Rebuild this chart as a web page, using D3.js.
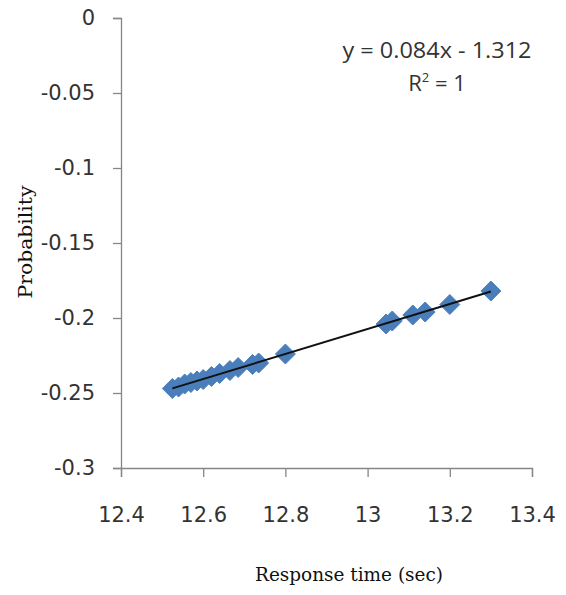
<!DOCTYPE html>
<html><head><meta charset="utf-8">
<script src="https://cdn.jsdelivr.net/npm/d3@7/dist/d3.min.js"></script>
<style>body{margin:0;background:#fff}svg{display:block}</style>
</head><body>
<svg id="c" width="566" height="595"></svg>
<script>
const responseTime = [12.525, 12.54, 12.555, 12.57, 12.585, 12.60, 12.62, 12.64, 12.665, 12.685, 12.72, 12.735, 12.80, 13.045, 13.06, 13.11, 13.14, 13.20, 13.30];
const probability = [-0.247, -0.246, -0.244, -0.243, -0.242, -0.241, -0.239, -0.237, -0.235, -0.233, -0.231, -0.230, -0.224, -0.204, -0.202, -0.198, -0.196, -0.191, -0.182];
const xTicks = [12.4, 12.6, 12.8, 13, 13.2, 13.4];
const yTicks = [0, -0.05, -0.1, -0.15, -0.2, -0.25, -0.3];
const equationText = "y = 0.084x - 1.312";
const xTitle = "Response time (sec)";
const yTitle = "Probability";

const svg = d3.select("#c");
const x = d3.scaleLinear().domain([12.4, 13.4]).range([121, 532]);
const y = d3.scaleLinear().domain([-0.3, 0]).range([468, 18]);
const axisColor = "#868686";
const tickFont = "'DejaVu Sans', sans-serif";

// X axis
const gx = svg.append("g").attr("transform", `translate(0,${y(-0.3)})`)
  .call(d3.axisBottom(x).tickValues(xTicks).tickSize(9).tickPadding(30).tickFormat(d => String(d)));
gx.select(".domain").attr("stroke", axisColor).attr("stroke-width", 1.3);
gx.selectAll(".tick line").attr("stroke", axisColor).attr("stroke-width", 1.3);
gx.selectAll(".tick text").attr("font-family", tickFont).attr("font-size", 21).attr("fill", "#333");

// Y axis
const gy = svg.append("g").attr("transform", `translate(${x(12.4)},0)`)
  .call(d3.axisLeft(y).tickValues(yTicks).tickSize(8).tickPadding(18).tickFormat(d => String(d)));
gy.select(".domain").attr("stroke", axisColor).attr("stroke-width", 1.3);
gy.selectAll(".tick line").attr("stroke", axisColor).attr("stroke-width", 1.3);
gy.selectAll(".tick text").attr("font-family", tickFont).attr("font-size", 21).attr("fill", "#333");

// Markers
const data = responseTime.map((t, i) => ({t, p: probability[i]}));
const r = 10;
svg.append("g").selectAll("path").data(data).join("path")
  .attr("transform", d => `translate(${x(d.t)},${y(d.p)})`)
  .attr("d", `M0,${-r}L${r},0L0,${r}L${-r},0Z`)
  .attr("fill", "#4A7EBB").attr("stroke", "#4F81BD").attr("stroke-width", 1);

// Linear trend line (least squares)
const mx = d3.mean(responseTime), my = d3.mean(probability);
const slope = d3.sum(data, d => (d.t - mx) * (d.p - my)) / d3.sum(data, d => (d.t - mx) ** 2);
const icpt = my - slope * mx;
const x0 = d3.min(responseTime), x1 = d3.max(responseTime);
svg.append("line")
  .attr("x1", x(x0)).attr("y1", y(slope * x0 + icpt))
  .attr("x2", x(x1)).attr("y2", y(slope * x1 + icpt))
  .attr("stroke", "#111").attr("stroke-width", 2);

// Equation
const eqFont = "'Open Sans', sans-serif";
svg.append("text").attr("x", 437).attr("y", 58).attr("text-anchor", "middle")
  .attr("font-family", eqFont).attr("font-size", 22).attr("fill", "#333")
  .attr("textLength", 189).attr("lengthAdjust", "spacingAndGlyphs").text(equationText);
const r2 = svg.append("text").attr("x", 437).attr("y", 91).attr("text-anchor", "middle")
  .attr("font-family", eqFont).attr("font-size", 22).attr("fill", "#333");
r2.append("tspan").text("R");
r2.append("tspan").attr("dy", -9).attr("font-size", 13).text("2");
r2.append("tspan").attr("dy", 9).text(" = 1");

// Axis titles
svg.append("text").attr("transform", `translate(32,242) rotate(-90)`).attr("text-anchor", "middle")
  .attr("font-family", "'DejaVu Serif', serif").attr("font-size", 19).attr("fill", "#111")
  .attr("textLength", 113).attr("lengthAdjust", "spacingAndGlyphs").text(yTitle);
svg.append("text").attr("x", 349).attr("y", 581).attr("text-anchor", "middle")
  .attr("font-family", "'DejaVu Serif', serif").attr("font-size", 19).attr("fill", "#111")
  .attr("textLength", 188).attr("lengthAdjust", "spacingAndGlyphs").text(xTitle);
</script>
</body></html>
